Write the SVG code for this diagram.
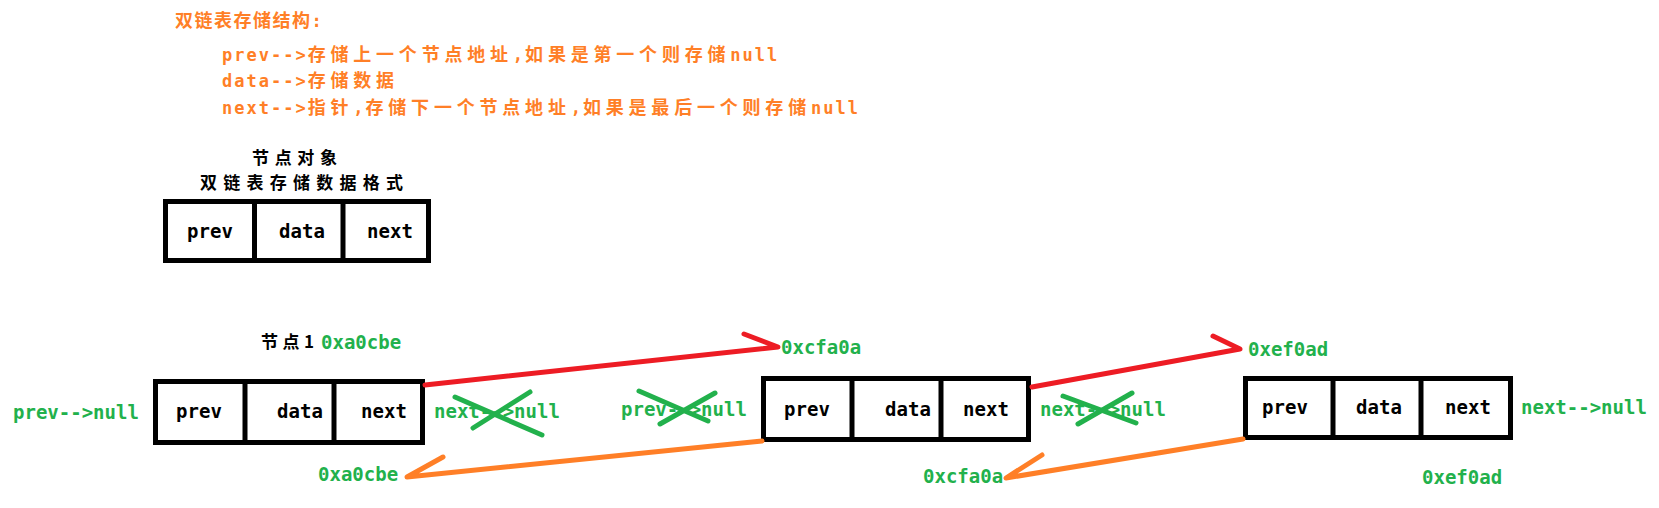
<svg xmlns="http://www.w3.org/2000/svg" width="1659" height="508" viewBox="0 0 1659 508">
<style>
.bg{fill:#ffffff}
.box{fill:#ffffff;stroke:#000000;stroke-width:5}
.div{stroke:#000000;stroke-width:5}
.cell{font-family:"DejaVu Sans Mono","Liberation Mono",monospace;font-weight:bold;font-size:19px;fill:#000000;text-anchor:middle}
.cn{font-family:"Noto Sans CJK SC","DejaVu Sans",sans-serif;font-weight:bold;font-size:17px;fill:#000000}
.g{font-family:"DejaVu Sans Mono","Liberation Mono",monospace;font-weight:bold;font-size:19px;fill:#22B14C}
.o{font-family:"DejaVu Sans Mono","Noto Sans CJK SC",monospace;font-weight:bold;font-size:17px;fill:#FF7F27;letter-spacing:2px}
.o .c{font-family:"Noto Sans CJK SC",sans-serif;font-size:18px;letter-spacing:4.8px}
.o .t{font-family:"Noto Sans CJK SC",sans-serif;font-size:18px;letter-spacing:1.5px}
.red{fill:none;stroke:#ED1C24;stroke-width:5;stroke-linecap:round;stroke-linejoin:round}
.org{fill:none;stroke:#FF7F27;stroke-width:5;stroke-linecap:round;stroke-linejoin:round}
.x{fill:none;stroke:#22B14C;stroke-width:5;stroke-linecap:round}
</style>
<rect class="bg" x="0" y="0" width="1659" height="508"/>

<g id="legend">
<text class="o" x="175" y="27"><tspan class="t">双链表存储结构</tspan>:</text>
<text class="o" x="222" y="61">prev--&gt;<tspan class="c">存储上一个节点地址</tspan>,<tspan class="c">如果是第一个则存储</tspan>null</text>
<text class="o" x="222" y="87">data--&gt;<tspan class="c">存储数据</tspan></text>
<text class="o" x="222" y="114">next--&gt;<tspan class="c">指针</tspan>,<tspan class="c">存储下一个节点地址</tspan>,<tspan class="c">如果是最后一个则存储</tspan>null</text>
</g>

<g id="format">
<text class="cn" x="252" y="164" textLength="85" lengthAdjust="spacing">节点对象</text>
<text class="cn" x="200" y="189" textLength="203" lengthAdjust="spacing">双链表存储数据格式</text>
<rect class="box" x="165.5" y="201.5" width="263" height="59"/>
<line class="div" x1="254.5" y1="201.5" x2="254.5" y2="260.5"/>
<line class="div" x1="343" y1="201.5" x2="343" y2="260.5"/>
<text class="cell" x="210" y="238">prev</text>
<text class="cell" x="302" y="238">data</text>
<text class="cell" x="390" y="238">next</text>
</g>

<g id="node1">
<text class="cn" x="261" y="348" textLength="53" lengthAdjust="spacing">节点1</text>
<text class="g" x="321" y="349">0xa0cbe</text>
<rect class="box" x="155.5" y="381.5" width="267" height="61"/>
<line class="div" x1="245" y1="381.5" x2="245" y2="442.5"/>
<line class="div" x1="334" y1="381.5" x2="334" y2="442.5"/>
<text class="cell" x="199" y="418">prev</text>
<text class="cell" x="300" y="418">data</text>
<text class="cell" x="384" y="418">next</text>
<text class="g" x="13" y="419">prev--&gt;null</text>
<text class="g" x="434" y="418">next--&gt;null</text>
</g>

<g id="node2">
<text class="g" x="781" y="354">0xcfa0a</text>
<rect class="box" x="763.5" y="378.5" width="265" height="61"/>
<line class="div" x1="852" y1="378.5" x2="852" y2="439.5"/>
<line class="div" x1="941" y1="378.5" x2="941" y2="439.5"/>
<text class="cell" x="807" y="416">prev</text>
<text class="cell" x="908" y="416">data</text>
<text class="cell" x="986" y="416">next</text>
<text class="g" x="621" y="416">prev--&gt;null</text>
<text class="g" x="1040" y="416">next--&gt;null</text>
</g>

<g id="node3">
<text class="g" x="1248" y="356">0xef0ad</text>
<rect class="box" x="1245.5" y="378.5" width="265" height="59"/>
<line class="div" x1="1333" y1="378.5" x2="1333" y2="437.5"/>
<line class="div" x1="1421" y1="378.5" x2="1421" y2="437.5"/>
<text class="cell" x="1285" y="414">prev</text>
<text class="cell" x="1379" y="414">data</text>
<text class="cell" x="1468" y="414">next</text>
<text class="g" x="1521" y="414">next--&gt;null</text>
</g>

<g id="addresses">
<text class="g" x="318" y="481">0xa0cbe</text>
<text class="g" x="923" y="483">0xcfa0a</text>
<text class="g" x="1422" y="484">0xef0ad</text>
</g>

<g id="connectors">
<path class="red" d="M425,385 L778,347 L744,334"/>
<path class="red" d="M1032,387 L1240,349 L1213,336"/>
<path class="org" d="M762,441 L407,477 L443,457"/>
<path class="org" d="M1243,439 L1006,478 L1042,455"/>
</g>

<g id="crosses">
<line class="x" x1="455" y1="397" x2="542" y2="435"/>
<line class="x" x1="530" y1="392" x2="473" y2="428"/>
<line class="x" x1="639" y1="391" x2="708" y2="421"/>
<line class="x" x1="715" y1="393" x2="660" y2="424"/>
<line class="x" x1="1063" y1="396" x2="1136" y2="423"/>
<line class="x" x1="1132" y1="393" x2="1078" y2="424"/>
</g>
</svg>
